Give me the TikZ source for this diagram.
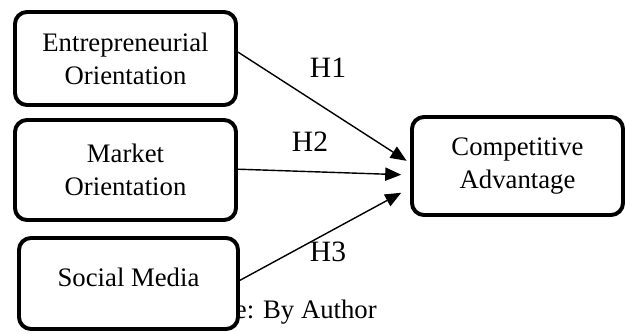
\documentclass[tikz,border=0pt]{standalone}
\usepackage{fontspec}
\setmainfont{Liberation Serif}
\usepackage{tikz}
\usetikzlibrary{arrows.meta, positioning, calc}

\begin{document}
\begin{tikzpicture}[x=0.025cm, y=-0.025cm,
    varbox/.style={draw, line width=2.8pt, rounded corners=0.3cm, fill=white,
                   align=center, inner sep=0pt,
                   font=\fontsize{19}{23.5}\selectfont},
    hyp/.style={font=\fontsize{21}{24}\selectfont, inner sep=0pt},
    link/.style={line width=1pt, -{Triangle[length=0.4cm, width=0.33cm]}}]

\useasboundingbox (0,0) rectangle (627,334);

% Source line (partly covered by the last box)
\node[anchor=base east, font=\fontsize{19}{23.5}\selectfont, inner sep=0pt]
    (src) at (377,319) {Source: By Author};

% Independent variables
\node[varbox, minimum width=5.525cm, minimum height=2.325cm]
    (eo) at (125.5,58.5) {Entrepreneurial\\Orientation};
\node[varbox, minimum width=5.525cm, minimum height=2.5cm]
    (mo) at (125.5,170) {Market\\Orientation};
\node[varbox, minimum width=5.475cm, minimum height=2.275cm, text depth=0.3cm]
    (sm) at (128.5,283.5) {Social Media};

% Dependent variable
\node[varbox, minimum width=5.275cm, minimum height=2.45cm]
    (ca) at (517.5,166) {Competitive\\Advantage};

% Hypotheses
\draw[link, shorten >=0.1cm] ([yshift=0.16cm]eo.east) -- ([yshift=0.075cm]ca.west);
\draw[link, shorten >=0.22cm] ([yshift=0.02cm]mo.east) -- ([yshift=-0.225cm]ca.west);
\draw[link, shorten >=0.25cm] ([yshift=0.08cm]sm.east) -- ([yshift=-0.55cm]ca.west);

\node[hyp] (h1) at (328,67.5) {H1};
\node[hyp] (h2) at (310,142) {H2};
\node[hyp] (h3) at (328,252) {H3};

\end{tikzpicture}
\end{document}
